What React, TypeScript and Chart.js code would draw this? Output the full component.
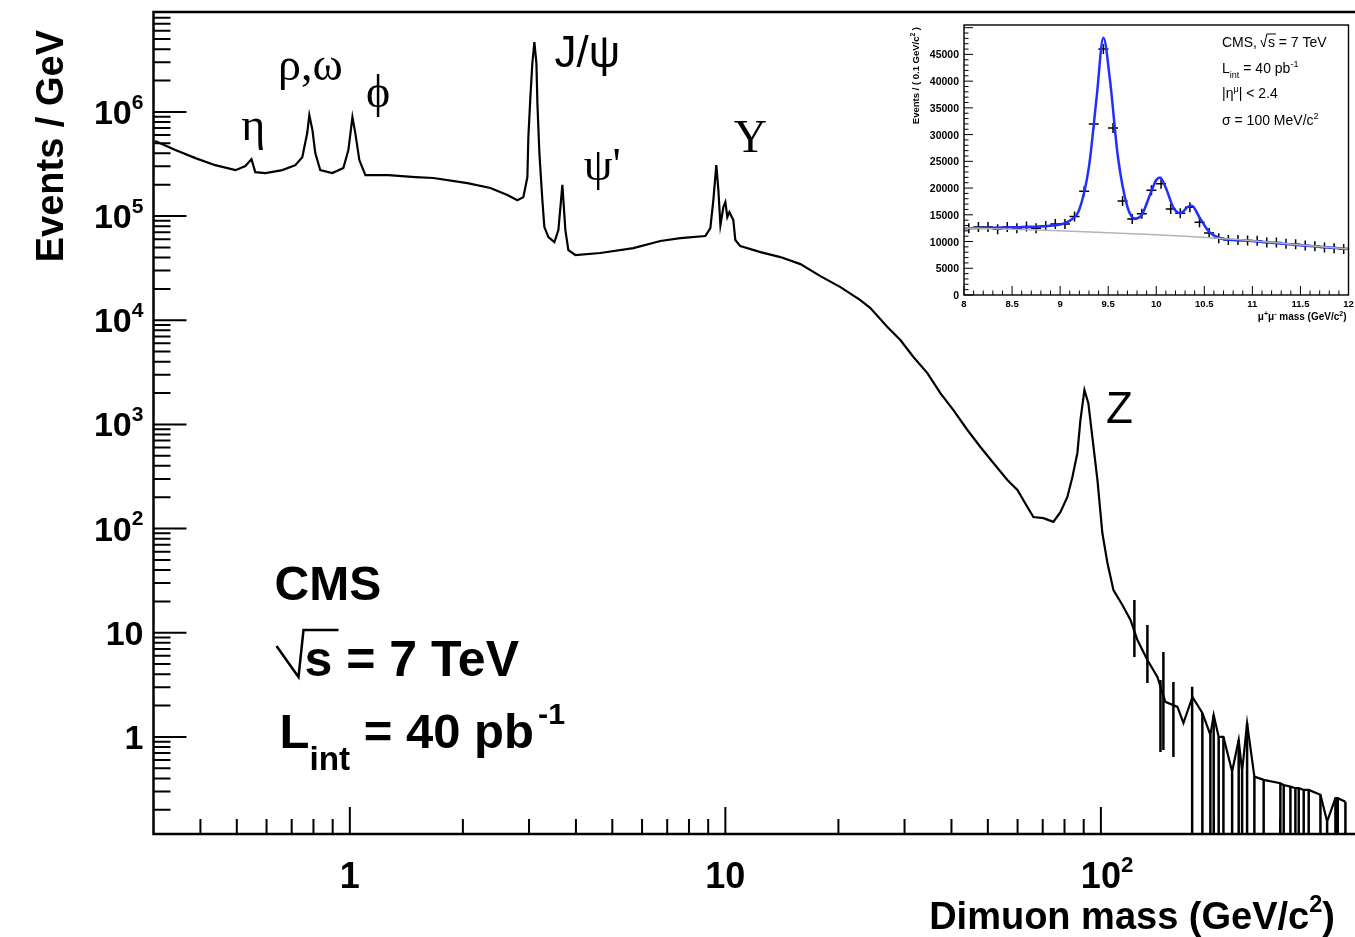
import React, { useEffect, useRef } from "react";
import { Chart, registerables } from "chart.js";

Chart.register(...registerables);

const FONT = "'Liberation Sans', Arial, Helvetica, sans-serif";
const SERIF = "'Liberation Serif', 'DejaVu Serif', 'Times New Roman', serif";

// ---------------- main histogram (events / GeV vs dimuon mass) ----------------
const massGeV = [
  0.303, 0.343, 0.388, 0.438, 0.496, 0.527, 0.547, 0.56, 0.596, 0.661,
  0.716, 0.747, 0.77, 0.78, 0.795, 0.809, 0.834, 0.898, 0.961, 0.991,
  1.016, 1.034, 1.06, 1.1, 1.266, 1.494, 1.669, 2.056, 2.367, 2.627,
  2.793, 2.898, 2.97, 2.988, 3.025, 3.062, 3.1, 3.139, 3.158, 3.197,
  3.256, 3.296, 3.379, 3.505, 3.592, 3.681, 3.749, 3.819, 3.986, 4.647,
  5.689, 6.714, 7.59, 8.845, 9.12, 9.29, 9.46, 9.58, 9.7, 9.88,
  10.0, 10.12, 10.25, 10.5, 10.63, 10.96, 12.4, 14.01, 15.84, 17.91,
  20.25, 22.88, 24.33, 27.01, 29.24, 31.68, 34.51, 37.37, 40.48, 44.12,
  47.77, 51.73, 56.36, 59.94, 63.72, 66.11, 70.3, 74.72, 78.0, 81.43,
  83.97, 86.58, 88.2, 90.4, 92.6, 94.9, 97.9, 100.9, 104.1, 108.0,
  114.1, 119.9, 125.1, 133.0, 141.4, 148.5, 159.9, 165.9, 175.3, 186.3,
  195.7, 199.7, 205.9, 212.0, 223.6, 232.8, 237.7, 245.1, 256.3, 271.3,
  300.6, 306.8, 319.7, 329.6, 336.4, 346.8, 357.6, 384.3, 400.4, 421.3,
  427.3, 447.9,
];
const eventsPerGeV = [
  5.25e5, 4.3e5, 3.6e5, 3.08e5, 2.76e5, 3.02e5, 3.52e5, 2.64e5, 2.59e5, 2.76e5,
  3.08e5, 3.68e5, 6.26e5, 9.32e5, 6.69e5, 4.02e5, 2.76e5, 2.59e5, 2.89e5, 4.3e5,
  8.91e5, 6.26e5, 3.45e5, 2.47e5, 2.47e5, 2.37e5, 2.32e5, 2.07e5, 1.86e5, 1.59e5,
  1.42e5, 1.52e5, 2.37e5, 5.73e5, 1.39e6, 2.94e6, 4.68e6, 2.94e6, 1.21e6, 4.02e5,
  1.42e5, 7.84e4, 6.28e4, 5.63e4, 7.34e4, 1.99e5, 7.34e4, 4.72e4, 4.23e4, 4.42e4,
  4.93e4, 5.76e4, 6.15e4, 6.43e4, 7.67e4, 1.42e5, 3.08e5, 1.78e5, 8.2e4, 1.22e5,
  1.36e5, 9.78e4, 1.09e5, 9.15e4, 5.89e4, 5.15e4, 4.51e4, 4.04e4, 3.46e4, 2.65e4,
  2.08e4, 1.56e4, 1.31e4, 8610, 6460, 4440, 3110, 2000, 1370, 884,
  607, 426, 293, 235, 161, 129, 126, 116, 144, 201,
  313, 532, 1100, 2140, 1600, 757, 293, 90.7, 46.8, 25.7,
  18.5, 13.3, 8.53, 5.48, 3.77, 2.17, 1.94, 1.36, 2.42, 1.7,
  1.045, 1.626, 1.0, 1.0, 0.465, 0.936, 0.465, 1.354, 0.416, 0.387,
  0.359, 0.346, 0.333, 0.322, 0.322, 0.31, 0.31, 0.278, 0.154, 0.258,
  0.258, 0.239,
];

// error bars (upper / lower ends) in the high-mass region
const errMassGeV = [
  122.8, 133.0, 144.1, 146.7, 156.0, 175.0, 186.3, 195.7, 199.7, 205.9,
  212.0, 223.6, 232.8, 237.7, 245.1, 256.3, 271.3, 300.6, 306.8, 319.7,
  329.6, 336.4, 346.8, 357.6, 384.3, 400.4, 421.3, 427.3, 447.9,
];
const errUpper = [
  20.6, 11.9, 3.52, 6.54, 3.37, 3.04, 1.7, 1.045, 1.626, 1.0,
  1.0, 0.465, 0.936, 0.465, 1.354, 0.416, 0.387, 0.359, 0.346, 0.333,
  0.322, 0.322, 0.31, 0.31, 0.278, 0.154, 0.258, 0.258, 0.239,
];
const errLower = [
  5.86, 3.3, 0.718, 0.75, 0.643, 0.01, 0.01, 0.01, 0.01, 0.01,
  0.01, 0.01, 0.01, 0.01, 0.01, 0.01, 0.01, 0.01, 0.01, 0.01,
  0.01, 0.01, 0.01, 0.01, 0.01, 0.01, 0.01, 0.01, 0.01,
];

const yMajorTickValues = [1, 10, 100, 1000, 10000, 100000, 1000000];
const yTickBase = ["1", "10", "10", "10", "10", "10", "10"];
const yTickExp = ["", "", "2", "3", "4", "5", "6"];
const xMajorTickValues = [1, 10, 100];
const xTickBase = ["1", "10", "10"];
const xTickExp = ["", "", "2"];

const resonanceNames = ["η", "ρ,ω", "ϕ", "J/ψ", "ψ'", "Υ", "Z"];
const resonanceLabelMass = [0.553, 0.785, 1.19, 4.29, 4.7, 11.66, 112];
const resonanceLabelEvents = [7.0e5, 2.63e6, 1.45e6, 3.51e6, 2.89e5, 5.36e5, 1345];

// ---------------- inset: Upsilon region ----------------
const insetMass = [
  8.05, 8.15, 8.25, 8.35, 8.45, 8.55, 8.65, 8.75, 8.85, 8.95,
  9.05, 9.15, 9.25, 9.35, 9.45, 9.55, 9.65, 9.75, 9.85, 9.95,
  10.05, 10.15, 10.25, 10.35, 10.45, 10.55, 10.65, 10.75, 10.85, 10.95,
  11.05, 11.15, 11.25, 11.35, 11.45, 11.55, 11.65, 11.75, 11.85, 11.95,
];
const insetEvents = [
  12500, 12700, 12700, 12300, 12700, 12500, 12800, 12500, 12900, 13300,
  13300, 14700, 19400, 32000, 46000, 31250, 17600, 14200, 15200, 19600,
  20800, 16100, 15300, 16400, 13600, 11600, 10600, 10300, 10300, 10200,
  10150, 9800, 9800, 9600, 9500, 9250, 9100, 8900, 8750, 8600,
];
const fitMass = [
  8.0, 8.5, 9.0, 9.1, 9.2, 9.3, 9.38, 9.45, 9.52, 9.6,
  9.7, 9.78, 9.85, 9.93, 10.0, 10.04, 10.1, 10.18, 10.25, 10.33,
  10.37, 10.45, 10.55, 10.65, 10.8, 11.0, 11.5, 12.0,
];
const fitEvents = [
  12500, 12650, 13200, 13900, 16000, 24000, 37000, 48100, 40000, 26000,
  16500, 14300, 15000, 18500, 21500, 22000, 20000, 16300, 15300, 16500,
  16700, 14500, 11800, 10700, 10300, 10100, 9300, 8600,
];
const bkgMass = [8.0, 9.0, 10.0, 10.6, 11.0, 11.5, 12.0];
const bkgEvents = [12550, 12000, 11250, 10650, 10150, 9350, 8600];

const insetXTicks = [8, 8.5, 9, 9.5, 10, 10.5, 11, 11.5, 12];
const insetXTickLabels = ["8", "8.5", "9", "9.5", "10", "10.5", "11", "11.5", "12"];
const insetYTicks = [0, 5000, 10000, 15000, 20000, 25000, 30000, 35000, 40000, 45000];
const insetYTickLabels = ["0", "5000", "10000", "15000", "20000", "25000", "30000", "35000", "40000", "45000"];

// ---------------- helpers ----------------
type Part = [string, number, number]; // text, size factor, baseline shift (em, +down)

function drawRich(
  ctx: CanvasRenderingContext2D,
  parts: Part[],
  x: number,
  y: number,
  size: number,
  align: "left" | "right" | "center" | "base",
  weight = "bold"
) {
  let total = 0;
  let first = 0;
  parts.forEach(([t, f], i) => {
    ctx.font = `${weight} ${size * f}px ${FONT}`;
    const w = ctx.measureText(t).width;
    if (i === 0) first = w;
    total += w;
  });
  let cx =
    align === "left" ? x : align === "right" ? x - total : align === "center" ? x - total / 2 : x - first / 2;
  ctx.textAlign = "left";
  ctx.textBaseline = "alphabetic";
  for (const [t, f, dy] of parts) {
    ctx.font = `${weight} ${size * f}px ${FONT}`;
    ctx.fillText(t, cx, y + dy * size);
    cx += ctx.measureText(t).width;
  }
  return total;
}

const mainDecor = {
  id: "mainDecor",
  afterDraw(chart: any) {
    const ctx: CanvasRenderingContext2D = chart.ctx;
    const a = chart.chartArea;
    const xs = chart.scales.x;
    const ys = chart.scales.y;
    ctx.save();
    ctx.strokeStyle = "#000";
    ctx.fillStyle = "#000";

    // tick marks
    ctx.lineWidth = 2;
    ctx.beginPath();
    for (let e = -2; e <= 7; e++) {
      for (let k = 1; k <= 9; k++) {
        const v = k * Math.pow(10, e);
        if (v < ys.min || v > ys.max) continue;
        const py = ys.getPixelForValue(v);
        if (py < a.top + 1 || py > a.bottom - 1) continue;
        ctx.moveTo(a.left, py);
        ctx.lineTo(a.left + (k === 1 ? 33 : 17), py);
      }
    }
    for (let e = -1; e <= 3; e++) {
      for (let k = 1; k <= 9; k++) {
        const v = k * Math.pow(10, e);
        if (v < xs.min || v > xs.max) continue;
        const px = xs.getPixelForValue(v);
        if (px < a.left + 1 || px > a.right - 1) continue;
        ctx.moveTo(px, a.bottom);
        ctx.lineTo(px, a.bottom - (k === 1 ? 27 : 15));
      }
    }
    ctx.stroke();

    // frame
    ctx.lineWidth = 2.5;
    ctx.beginPath();
    ctx.moveTo(a.right, a.top);
    ctx.lineTo(a.left, a.top);
    ctx.lineTo(a.left, a.bottom);
    ctx.lineTo(a.right, a.bottom);
    ctx.stroke();

    // y tick labels
    yMajorTickValues.forEach((v, i) => {
      const py = ys.getPixelForValue(v);
      const parts: Part[] = [[yTickBase[i], 1, 0]];
      if (yTickExp[i]) parts.push([yTickExp[i], 0.62, -0.45]);
      drawRich(ctx, parts, a.left - 10, py + 12, 34, "right");
    });
    // x tick labels
    xMajorTickValues.forEach((v, i) => {
      const px = xs.getPixelForValue(v);
      const parts: Part[] = [[xTickBase[i], 1, 0]];
      if (xTickExp[i]) parts.push([xTickExp[i], 0.62, -0.45]);
      drawRich(ctx, parts, px, a.bottom + 54, 36, "base");
    });

    // axis titles
    drawRich(
      ctx,
      [["Dimuon mass (GeV/c", 1, 0], ["2", 0.62, -0.45], [")", 1, 0]],
      a.right - 20,
      a.bottom + 95,
      38,
      "right"
    );
    ctx.save();
    ctx.translate(63, a.top + 18);
    ctx.rotate(-Math.PI / 2);
    ctx.font = `bold 38px ${FONT}`;
    ctx.textAlign = "right";
    ctx.textBaseline = "alphabetic";
    ctx.fillText("Events / GeV", 0, 0);
    ctx.restore();

    // resonance labels
    ctx.textAlign = "center";
    ctx.textBaseline = "middle";
    resonanceNames.forEach((name, i) => {
      const px = xs.getPixelForValue(resonanceLabelMass[i]);
      const py = ys.getPixelForValue(resonanceLabelEvents[i]);
      const sansLabel = name === "Z" || name === "J/ψ";
      ctx.font = sansLabel ? `44px ${FONT}` : `46px ${SERIF}`;
      ctx.fillText(name, px, py);
    });

    // CMS block
    const tx = a.left + 121;
    const b1 = a.bottom - 234;
    const b2 = a.bottom - 158;
    const b3 = a.bottom - 86;
    drawRich(ctx, [["CMS", 1, 0]], tx, b1, 48, "left");
    // radical sign
    ctx.lineWidth = 2.5;
    ctx.beginPath();
    ctx.moveTo(tx + 2, b2 - 30);
    ctx.lineTo(tx + 24, b2 + 1);
    ctx.lineTo(tx + 29, b2 - 46);
    ctx.lineTo(tx + 64, b2 - 46);
    ctx.stroke();
    drawRich(ctx, [["s = 7 TeV", 1, 0]], tx + 30, b2, 50, "left");
    drawRich(
      ctx,
      [["L", 1, 0], ["int", 0.68, 0.45], [" = 40 pb", 1, 0], [" ", 0.3, 0], ["-1", 0.62, -0.5]],
      tx + 5,
      b3,
      49,
      "left"
    );
    ctx.restore();
  },
};

const insetDecor = {
  id: "insetDecor",
  afterDraw(chart: any) {
    const ctx: CanvasRenderingContext2D = chart.ctx;
    const a = chart.chartArea;
    const xs = chart.scales.x;
    const ys = chart.scales.y;
    ctx.save();
    ctx.strokeStyle = "#000";
    ctx.fillStyle = "#000";
    ctx.lineWidth = 1;
    ctx.beginPath();
    for (let i = 0; i <= 50; i++) {
      const v = i * 1000;
      if (v > ys.max) break;
      const py = ys.getPixelForValue(v);
      ctx.moveTo(a.left, py);
      ctx.lineTo(a.left + (i % 5 === 0 ? 9 : 4.5), py);
    }
    for (let i = 0; i <= 40; i++) {
      const px = xs.getPixelForValue(8 + i * 0.1);
      ctx.moveTo(px, a.bottom);
      ctx.lineTo(px, a.bottom - (i % 5 === 0 ? 9 : 4.5));
    }
    ctx.stroke();
    ctx.lineWidth = 1.4;
    ctx.strokeRect(a.left, a.top, a.right - a.left, a.bottom - a.top);

    // tick labels
    insetYTicks.forEach((v, i) => {
      const py = ys.getPixelForValue(v);
      drawRich(ctx, [[insetYTickLabels[i], 1, 0]], a.left - 5, py + 4, 10.5, "right");
    });
    insetXTicks.forEach((v, i) => {
      const px = xs.getPixelForValue(v);
      drawRich(ctx, [[insetXTickLabels[i], 1, 0]], px, a.bottom + 12, 9.5, "center");
    });
    // titles
    drawRich(
      ctx,
      [["μ", 1, 0], ["+", 0.7, -0.4], ["μ", 1, 0], ["-", 0.7, -0.4], [" mass (GeV/c", 1, 0], ["2", 0.7, -0.4], [")", 1, 0]],
      a.right - 2,
      a.bottom + 25,
      10,
      "right"
    );
    ctx.save();
    ctx.translate(24, a.top + 2);
    ctx.rotate(-Math.PI / 2);
    drawRich(
      ctx,
      [["Events / ( 0.1 GeV/c", 1, 0], ["2", 0.7, -0.4], [" )", 1, 0]],
      0,
      0,
      9.5,
      "right"
    );
    ctx.restore();

    // text block
    const tx = a.left + 258;
    const fs = 14;
    drawRich(ctx, [["CMS, ", 1, 0]], tx, a.top + 22, fs, "left", "normal");
    ctx.font = `normal ${fs}px ${FONT}`;
    const wCMS = ctx.measureText("CMS, ").width;
    ctx.lineWidth = 1;
    ctx.beginPath();
    ctx.moveTo(tx + wCMS, a.top + 15);
    ctx.lineTo(tx + wCMS + 3, a.top + 22);
    ctx.lineTo(tx + wCMS + 6, a.top + 9);
    ctx.lineTo(tx + wCMS + 15, a.top + 9);
    ctx.stroke();
    drawRich(ctx, [["s = 7 TeV", 1, 0]], tx + wCMS + 7, a.top + 22, fs, "left", "normal");
    drawRich(
      ctx,
      [["L", 1, 0], ["int", 0.65, 0.35], [" = 40 pb", 1, 0], ["-1", 0.65, -0.45]],
      tx,
      a.top + 48,
      fs,
      "left",
      "normal"
    );
    drawRich(
      ctx,
      [["|η", 1, 0], ["μ", 0.65, -0.45], ["| < 2.4", 1, 0]],
      tx,
      a.top + 73,
      fs,
      "left",
      "normal"
    );
    drawRich(
      ctx,
      [["σ = 100 MeV/c", 1, 0], ["2", 0.65, -0.45]],
      tx,
      a.top + 100,
      fs,
      "left",
      "normal"
    );
    ctx.restore();
  },
};

export default function App() {
  const mainRef = useRef<HTMLCanvasElement>(null);
  const insetRef = useRef<HTMLCanvasElement>(null);

  useEffect(() => {
    const histPoints = massGeV.map((m, i) => ({ x: m, y: eventsPerGeV[i] }));
    const errPoints: { x: number; y: number | null }[] = [];
    errMassGeV.forEach((m, i) => {
      errPoints.push({ x: m, y: errUpper[i] });
      errPoints.push({ x: m, y: errLower[i] });
      errPoints.push({ x: m, y: null });
    });

    const main = new Chart(mainRef.current as HTMLCanvasElement, {
      type: "line",
      data: {
        datasets: [
          {
            data: errPoints as any,
            borderColor: "#000",
            borderWidth: 2.5,
            pointRadius: 0,
            spanGaps: false,
            tension: 0,
          },
          {
            data: histPoints as any,
            borderColor: "#000",
            borderWidth: 2.2,
            pointRadius: 0,
            tension: 0,
          },
        ],
      },
      options: {
        responsive: false,
        animation: false,
        devicePixelRatio: 1,
        layout: { padding: { left: 153.5, top: 12, right: 0, bottom: 103 } },
        plugins: { legend: { display: false }, tooltip: { enabled: false } },
        scales: {
          x: { type: "logarithmic", min: 0.3, max: 475, display: false },
          y: { type: "logarithmic", min: 0.117, max: 9.1e6, display: false },
        },
      },
      plugins: [mainDecor],
    });

    const inset = new Chart(insetRef.current as HTMLCanvasElement, {
      type: "line",
      data: {
        datasets: [
          {
            data: bkgMass.map((m, i) => ({ x: m, y: bkgEvents[i] })) as any,
            borderColor: "#b4b4b4",
            borderWidth: 1.5,
            pointRadius: 0,
            tension: 0.3,
          },
          {
            data: fitMass.map((m, i) => ({ x: m, y: fitEvents[i] })) as any,
            borderColor: "#1f2fff",
            borderWidth: 2.5,
            pointRadius: 0,
            cubicInterpolationMode: "monotone",
          },
          {
            data: insetMass.map((m, i) => ({ x: m, y: insetEvents[i] })) as any,
            showLine: false,
            pointStyle: "cross",
            pointRadius: 5,
            pointBorderWidth: 1.5,
            pointBorderColor: "#000",
            pointBackgroundColor: "#000",
          },
        ],
      },
      options: {
        responsive: false,
        animation: false,
        devicePixelRatio: 1,
        layout: { padding: { left: 69, top: 10, right: 3, bottom: 35 } },
        plugins: { legend: { display: false }, tooltip: { enabled: false } },
        scales: {
          x: { type: "linear", min: 8, max: 12, display: false },
          y: { type: "linear", min: 0, max: 50500, display: false },
        },
      },
      plugins: [insetDecor],
    });

    return () => {
      main.destroy();
      inset.destroy();
    };
  }, []);

  return (
    <div
      style={{
        position: "absolute",
        left: 0,
        top: 0,
        width: 1355,
        height: 937,
        background: "#fff",
        overflow: "hidden",
      }}
    >
      <canvas
        ref={mainRef}
        width={1355}
        height={937}
        style={{ position: "absolute", left: 0, top: 0, width: 1355, height: 937 }}
      />
      <canvas
        ref={insetRef}
        width={460}
        height={315}
        style={{ position: "absolute", left: 895, top: 15, width: 460, height: 315 }}
      />
    </div>
  );
}
